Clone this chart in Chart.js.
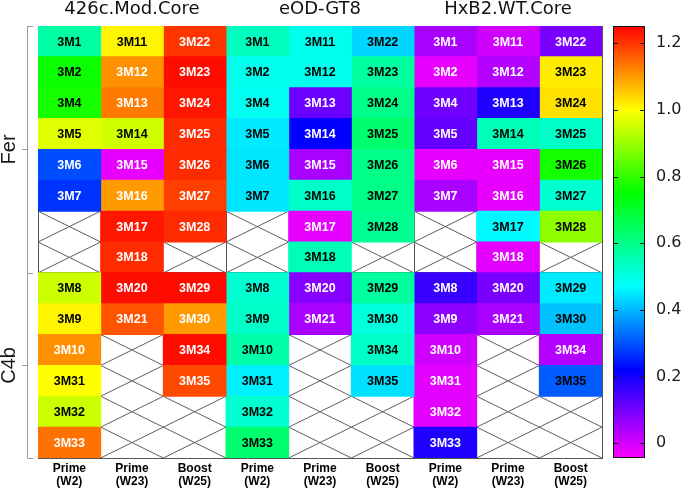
<!DOCTYPE html>
<html><head><meta charset="utf-8">
<script src="https://cdn.jsdelivr.net/npm/chart.js@4.4.1/dist/chart.umd.min.js"></script>
<style>html,body{margin:0;padding:0;background:#fff;}</style>
</head><body>
<canvas id="c" width="682" height="489"></canvas>
<script>
// ---------- data ----------
const groups = ['426c.Mod.Core', 'eOD-GT8', 'HxB2.WT.Core'];
const timepoints = [['Prime', '(W2)'], ['Prime', '(W23)'], ['Boost', '(W25)']];
const antigens = ['Fer', 'C4b'];
const antigenRows = [8, 6];

const idsW2  = ['3M1','3M2','3M4','3M5','3M6','3M7',null,null,'3M8','3M9','3M10','3M31','3M32','3M33'];
const idsW23 = ['3M11','3M12','3M13','3M14','3M15','3M16','3M17','3M18','3M20','3M21',null,null,null,null];
const idsW25 = ['3M22','3M23','3M24','3M25','3M26','3M27','3M28',null,'3M29','3M30','3M34','3M35',null,null];

const v426W2  = [0.57,0.76,0.77,0.97,0.295,0.27,null,null, 0.95,1.01,1.11,1.00,0.95,1.14];
const v426W23 = [1.01,1.11,1.13,0.955,-0.02,1.10,1.23,1.21, 1.24,1.17,null,null,null,null];
const v426W25 = [1.20,1.24,1.23,1.21,1.21,1.19,1.21,null, 1.24,1.10,1.24,1.18,null,null];
const veodW2  = [0.54,0.49,0.485,0.45,0.445,0.445,null,null, 0.52,0.53,0.565,0.455,0.52,0.63];
const veodW23 = [0.49,0.49,0.11,0.22,0.045,0.53,-0.02,0.55, 0.08,0.045,null,null,null,null];
const veodW25 = [0.43,0.575,0.60,0.63,0.60,0.60,0.59,null, 0.575,0.51,0.53,0.44,null,null];
const vhxbW2  = [0.045,-0.02,0.105,0.115,-0.02,0.045,null,null, 0.16,0.075,0.005,-0.015,-0.015,0.19];
const vhxbW23 = [0.005,0.035,0.19,0.55,-0.02,-0.02,0.465,-0.015, 0.095,0.045,null,null,null,null];
const vhxbW25 = [0.095,1.02,1.03,0.53,0.77,0.52,0.89,null, 0.45,0.41,0.035,0.31,null,null];

const colorTicks = [0, 0.2, 0.4, 0.6, 0.8, 1.0, 1.2];
const colorMin = -0.044, colorMax = 1.252;

// ---------- styling helpers ----------
const cmapStops = [
  [-0.044, [255, 0, 255]],
  [0.22, [0, 0, 255]],
  [0.47, [0, 255, 255]],
  [0.75, [0, 255, 0]],
  [1.0, [255, 255, 0]],
  [1.252, [255, 0, 0]]
];
function cmap(v) {
  if (v <= cmapStops[0][0]) return 'rgb(' + cmapStops[0][1].join(',') + ')';
  for (let i = 1; i < cmapStops.length; i++) {
    const [v1, c1] = cmapStops[i];
    const [v0, c0] = cmapStops[i - 1];
    if (v <= v1) {
      const t = (v - v0) / (v1 - v0);
      return 'rgb(' + c0.map((a, k) => Math.round(a + (c1[k] - a) * t)).join(',') + ')';
    }
  }
  return 'rgb(' + cmapStops[cmapStops.length - 1][1].join(',') + ')';
}
function textColor(v) { return (v < 0.3 || v > 1.05) ? '#ffffff' : '#000000'; }

const columnValues = [v426W2, v426W23, v426W25, veodW2, veodW23, veodW25, vhxbW2, vhxbW23, vhxbW25];
const columnIds = [idsW2, idsW23, idsW25, idsW2, idsW23, idsW25, idsW2, idsW23, idsW25];
const nCols = columnValues.length;
const nRows = antigenRows.reduce((a, b) => a + b, 0);

const datasets = columnValues.map((vals, c) => ({
  type: 'bar',
  xAxisID: 'x', yAxisID: 'y',
  grouped: false,
  barPercentage: 1, categoryPercentage: 1,
  borderWidth: 0, borderSkipped: false,
  inflateAmount: 0.5,
  data: vals.map((v, r) => v === null ? null : { x: c + 0.5, y: [r, r + 1], v: v, id: columnIds[c][r] }).filter(d => d),
  backgroundColor: ctx => cmap(ctx.raw.v)
}));

const crossPts = [];
columnValues.forEach((vals, c) => vals.forEach((v, r) => {
  if (v === null) {
    crossPts.push({ x: c, y: r }, { x: c + 1, y: r + 1 }, { x: c, y: null },
                  { x: c, y: r + 1 }, { x: c + 1, y: r }, { x: c, y: null });
  }
}));
datasets.push({
  type: 'line', xAxisID: 'x', yAxisID: 'y',
  data: crossPts, spanGaps: false, pointRadius: 0, borderWidth: 1,
  borderColor: '#5e5e5e', tension: 0, fill: false
});

const rowSplits = [0];
antigenRows.forEach(n => rowSplits.push(rowSplits[rowSplits.length - 1] + n));
const antigenCenters = antigenRows.map((n, i) => rowSplits[i] + n / 2);

// ---------- plugins ----------
const cellLabels = {
  id: 'cellLabels',
  afterDatasetsDraw(chart) {
    const ctx = chart.ctx;
    ctx.save();
    ctx.font = 'bold 12.5px "Liberation Sans", Arial, sans-serif';
    ctx.textAlign = 'center';
    ctx.textBaseline = 'middle';
    chart.data.datasets.forEach((ds, di) => {
      if (ds.type !== 'bar') return;
      const meta = chart.getDatasetMeta(di);
      meta.data.forEach((el, i) => {
        const raw = ds.data[i];
        const p = el.getCenterPoint();
        ctx.fillStyle = textColor(raw.v);
        ctx.fillText(raw.id, p.x, p.y + 0.5);
      });
    });
    ctx.restore();
  }
};

const decorations = {
  id: 'decorations',
  afterDraw(chart) {
    const ctx = chart.ctx;
    const y = chart.scales.y;
    const yc = chart.scales.yc;
    const area = chart.chartArea;
    ctx.save();
    // left bracket axis
    const bx = area.left - 11;
    ctx.strokeStyle = '#9a9a9a';
    ctx.lineWidth = 1;
    ctx.beginPath();
    ctx.moveTo(bx + 0.5, y.getPixelForValue(0));
    ctx.lineTo(bx + 0.5, y.getPixelForValue(nRows));
    rowSplits.forEach(r => {
      const py = Math.round(y.getPixelForValue(r)) + 0.5;
      ctx.moveTo(bx + 0.5, py); ctx.lineTo(bx + 6, py);
    });
    antigenCenters.forEach(r => {
      const py = Math.round(y.getPixelForValue(r)) + 0.5;
      ctx.moveTo(bx + 0.5, py); ctx.lineTo(bx - 5, py);
    });
    ctx.stroke();
    // antigen labels
    ctx.fillStyle = '#1a1a1a';
    ctx.font = '20px "Liberation Sans", Arial, sans-serif';
    ctx.textAlign = 'center';
    ctx.textBaseline = 'middle';
    antigens.forEach((a, i) => {
      ctx.save();
      ctx.translate(9, y.getPixelForValue(antigenCenters[i]));
      ctx.rotate(-Math.PI / 2);
      ctx.fillText(a, 0, 0);
      ctx.restore();
    });
    // colour bar
    const cbL = yc.left + 11, cbR = yc.left + 43;
    const top = yc.getPixelForValue(colorMax), bot = yc.getPixelForValue(colorMin);
    const grad = ctx.createLinearGradient(0, bot, 0, top);
    cmapStops.forEach(([v, c]) => grad.addColorStop((v - colorMin) / (colorMax - colorMin), 'rgb(' + c.join(',') + ')'));
    ctx.fillStyle = grad;
    ctx.fillRect(cbL, top, cbR - cbL, bot - top);
    ctx.strokeStyle = '#111';
    ctx.lineWidth = 1;
    ctx.strokeRect(cbL + 0.5, top + 0.5, cbR - cbL - 1, bot - top - 1);
    ctx.beginPath();
    colorTicks.forEach(v => {
      const py = Math.round(yc.getPixelForValue(v)) + 0.5;
      ctx.moveTo(cbL, py); ctx.lineTo(cbL + 5, py);
      ctx.moveTo(cbR - 5, py); ctx.lineTo(cbR, py);
    });
    ctx.stroke();
    ctx.restore();
  }
};

const noPad = s => { s.paddingTop = 0; s.paddingBottom = 0; };

// ---------- chart ----------
new Chart(document.getElementById('c'), {
  type: 'bar',
  data: { datasets },
  options: {
    responsive: false,
    devicePixelRatio: 1,
    animation: false,
    events: [],
    layout: { padding: 0 },
    plugins: { legend: { display: false }, tooltip: { enabled: false } },
    scales: {
      x: {
        type: 'linear', position: 'bottom', min: 0, max: nCols, offset: false, bounds: 'data', z: 1,
        afterBuildTicks: s => { s.ticks = [0, 3, 6, 9].map(v => ({ value: v })); },
        ticks: { display: false },
        grid: { color: '#555', lineWidth: 1, drawTicks: false, offset: false },
        border: { color: '#555' },
        afterFit: s => { s.height = 0; }
      },
      xb: {
        type: 'linear', position: 'bottom', min: 0, max: nCols, offset: false, bounds: 'data',
        afterBuildTicks: s => { s.ticks = columnValues.map((_, c) => ({ value: c + 0.5 })); },
        ticks: {
          callback: (v, i) => timepoints[i % 3],
          font: { family: '"Liberation Sans", Arial, sans-serif', size: 12, weight: 'bold', lineHeight: 1.1 },
          color: '#000', padding: 4, maxRotation: 0, autoSkip: false
        },
        grid: { display: false, drawTicks: false },
        border: { display: false },
        afterFit: s => { s.height = 31; }
      },
      xt: {
        type: 'linear', position: 'top', min: 0, max: nCols, offset: false, bounds: 'data',
        afterBuildTicks: s => { s.ticks = groups.map((g, i) => ({ value: i * 3 + 1.5 })); },
        ticks: {
          callback: (v, i) => groups[i],
          font: { family: '"DejaVu Sans", sans-serif', size: 18 },
          color: '#111', padding: 6, maxRotation: 0, autoSkip: false
        },
        grid: { display: false, drawTicks: false },
        border: { display: false },
        afterFit: s => { s.height = 26; }
      },
      y: {
        type: 'linear', position: 'left', min: 0, max: nRows, reverse: true, bounds: 'data', z: 1,
        afterBuildTicks: s => { s.ticks = rowSplits.map(v => ({ value: v })); },
        ticks: { display: false },
        grid: { color: '#555', lineWidth: 1, drawTicks: false },
        border: { color: '#555' },
        afterFit: s => { s.width = 38; noPad(s); }
      },
      yc: {
        type: 'linear', position: 'right', min: colorMin, max: colorMax, bounds: 'data',
        afterBuildTicks: s => { s.ticks = colorTicks.map(v => ({ value: v })); },
        ticks: {
          callback: v => v === 0 ? '0' : v.toFixed(1),
          font: { family: '"DejaVu Sans", sans-serif', size: 16 },
          color: '#1a1a1a', padding: 54
        },
        grid: { display: false, drawTicks: false },
        border: { display: false },
        afterFit: s => { s.width = 80; noPad(s); }
      }
    }
  },
  plugins: [cellLabels, decorations]
});
</script>
</body></html>
